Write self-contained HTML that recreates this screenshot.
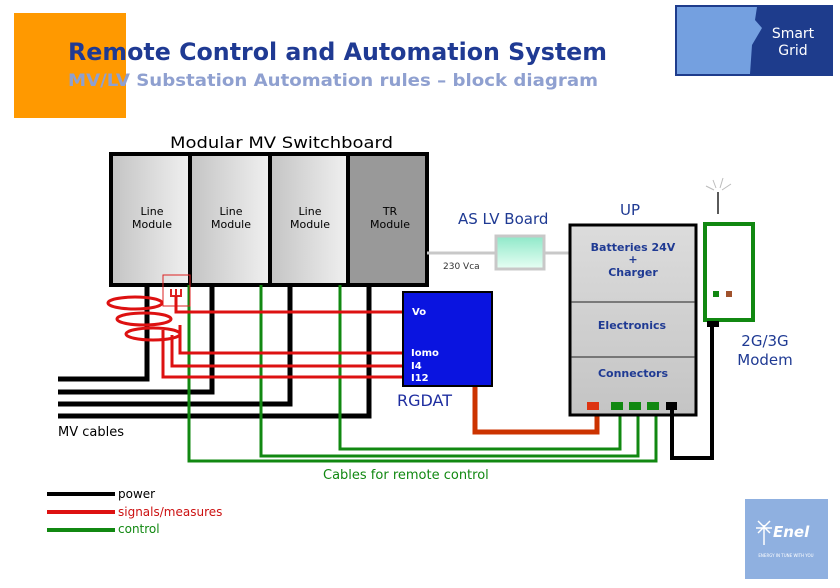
<!DOCTYPE html>
<html><head><meta charset="utf-8"><style>
html,body{margin:0;padding:0;background:#fff;width:840px;height:588px;overflow:hidden}
svg{display:block}
text{font-family:"DejaVu Sans","Liberation Sans",sans-serif}
</style></head><body>
<svg width="840" height="588" viewBox="0 0 840 588" xmlns="http://www.w3.org/2000/svg">
<defs>
<linearGradient id="gm" x1="0" x2="1" y1="0" y2="0"><stop offset="0" stop-color="#c4c4c4"/><stop offset="1" stop-color="#f0f0f0"/></linearGradient>
<linearGradient id="gu" x1="0" x2="0" y1="0" y2="1"><stop offset="0" stop-color="#dcdcdc"/><stop offset="1" stop-color="#c4c4c4"/></linearGradient>
<linearGradient id="gg" x1="0" x2="0" y1="0" y2="1"><stop offset="0" stop-color="#8ee8c8"/><stop offset="1" stop-color="#e8fff4"/></linearGradient>
</defs>
<rect x="14" y="13" width="112" height="105" fill="#ff9900"/>
<text x="68" y="60" font-size="24" font-weight="bold" fill="#1f3a93" textLength="539" lengthAdjust="spacingAndGlyphs">Remote Control and Automation System</text>
<text x="68" y="86" font-size="17" font-weight="bold" fill="#8fa0d0" textLength="530" lengthAdjust="spacingAndGlyphs">MV/LV Substation Automation rules – block diagram</text>
<rect x="675" y="5" width="158" height="71" fill="#1e3c8c"/>
<polygon points="677,7 757,7 755,20 762,28 752,45 750,74 677,74" fill="#74a0e0"/>
<text x="793" y="38" font-size="14" fill="#fff" text-anchor="middle">Smart</text>
<text x="793" y="55" font-size="14" fill="#fff" text-anchor="middle">Grid</text>

<text x="170" y="148" font-size="16" fill="#000" textLength="223" lengthAdjust="spacingAndGlyphs">Modular MV Switchboard</text>
<rect x="112" y="155" width="78" height="130" fill="url(#gm)"/>
<rect x="190" y="155" width="80" height="130" fill="url(#gm)"/>
<rect x="270" y="155" width="78" height="130" fill="url(#gm)"/>
<rect x="348" y="155" width="78" height="130" fill="#999"/>
<rect x="111" y="154" width="316" height="131" fill="none" stroke="#000" stroke-width="4"/>
<g stroke="#000" stroke-width="4"><line x1="190" y1="154" x2="190" y2="285"/><line x1="270" y1="154" x2="270" y2="285"/><line x1="348" y1="154" x2="348" y2="285"/></g>
<g font-size="11" text-anchor="middle" fill="#000">
<text x="152" y="215">Line</text><text x="152" y="228">Module</text>
<text x="231" y="215">Line</text><text x="231" y="228">Module</text>
<text x="310" y="215">Line</text><text x="310" y="228">Module</text>
<text x="390" y="215">TR</text><text x="390" y="228">Module</text>
</g>
<g stroke="#000" stroke-width="5" fill="none">
<polyline points="58,379 147,379 147,285"/>
<polyline points="58,392 212,392 212,285"/>
<polyline points="58,404 290,404 290,285"/>
<polyline points="58,416 369,416 369,285"/>
</g>
<g stroke="#118811" stroke-width="3" fill="none">
<polyline points="189,285 189,461 656,461 656,407"/>
<polyline points="261,285 261,456 638,456 638,407"/>
<polyline points="340,285 340,449 620,449 620,407"/>
</g>
<rect x="163" y="275" width="27" height="31" fill="none" stroke="#dd2222" stroke-width="1"/>
<path d="M171,289 v7 h10 v-7 M176,289 v7" stroke="#dd2222" stroke-width="2" fill="none"/>
<g stroke="#dd1111" stroke-width="3" fill="none">
<ellipse cx="135" cy="303" rx="27" ry="6"/>
<ellipse cx="144" cy="319" rx="27" ry="6"/>
<ellipse cx="153" cy="334" rx="27" ry="6"/>
<polyline points="176,296 176,312 403,312"/>
<polyline points="180,325 180,353 403,353"/>
<polyline points="172,335 172,366 403,366"/>
<polyline points="163,330 163,377 403,377"/>
</g>
<text x="58" y="436" font-size="13" fill="#000">MV cables</text>
<rect x="403" y="292" width="89" height="94" fill="#0a14e0" stroke="#000" stroke-width="2"/>
<g font-family="Liberation Serif, serif" font-weight="bold" font-size="10" fill="#fff">
<text x="412" y="315">Vo</text><text x="411" y="356">Iomo</text><text x="411" y="369">I4</text><text x="411" y="381">I12</text>
</g>
<text x="397" y="406" font-size="16" fill="#1f2ea0">RGDAT</text>
<polyline points="475,387 475,432 597,432 597,407" stroke="#cc3300" stroke-width="5" fill="none"/>
<line x1="427" y1="253" x2="569" y2="253" stroke="#c8c8c8" stroke-width="3"/>
<rect x="496" y="236" width="48" height="33" fill="url(#gg)" stroke="#c8c8c8" stroke-width="3"/>
<text x="458" y="224" font-size="15" fill="#1f3a93">AS LV Board</text>
<text x="443" y="269" font-size="9" fill="#333">230 Vca</text>
<text x="620" y="215" font-size="15" fill="#1f3a93">UP</text>
<rect x="570" y="225" width="126" height="190" fill="url(#gu)" stroke="#000" stroke-width="3"/>
<line x1="571" y1="302" x2="695" y2="302" stroke="#222" stroke-width="1"/>
<line x1="571" y1="357" x2="695" y2="357" stroke="#222" stroke-width="1"/>
<g font-size="11" font-weight="bold" fill="#1f3a93" text-anchor="middle">
<text x="633" y="251">Batteries 24V</text><text x="633" y="263">+</text><text x="633" y="276">Charger</text>
<text x="632" y="329">Electronics</text><text x="633" y="377">Connectors</text>
</g>
<rect x="587" y="402" width="12" height="8" fill="#dd3311"/>
<rect x="611" y="402" width="12" height="8" fill="#118811"/>
<rect x="629" y="402" width="12" height="8" fill="#118811"/>
<rect x="647" y="402" width="12" height="8" fill="#118811"/>
<rect x="666" y="402" width="11" height="8" fill="#000"/>
<polyline points="672,407 672,458 712,458 712,322" stroke="#000" stroke-width="4" fill="none"/>
<rect x="705" y="224" width="48" height="96" fill="#fff" stroke="#118811" stroke-width="4"/>
<rect x="707" y="321" width="12" height="6" fill="#000"/>
<rect x="713" y="291" width="6" height="6" fill="#118811"/>
<rect x="726" y="291" width="6" height="6" fill="#a0522d"/>
<line x1="718" y1="192" x2="718" y2="214" stroke="#222" stroke-width="1.5"/>
<g stroke="#bbb" stroke-width="1"><line x1="713" y1="180" x2="716" y2="188"/><line x1="723" y1="178" x2="720" y2="188"/><line x1="706" y1="186" x2="714" y2="190"/><line x1="731" y1="184" x2="722" y2="190"/></g>
<text x="765" y="346" font-size="15" fill="#1f3a93" text-anchor="middle">2G/3G</text>
<text x="765" y="365" font-size="15" fill="#1f3a93" text-anchor="middle">Modem</text>
<text x="323" y="479" font-size="13" fill="#118811">Cables for remote control</text>
<line x1="47" y1="494" x2="115" y2="494" stroke="#000" stroke-width="4"/>
<line x1="47" y1="512" x2="115" y2="512" stroke="#dd1111" stroke-width="4"/>
<line x1="47" y1="530" x2="115" y2="530" stroke="#118811" stroke-width="4"/>
<text x="118" y="498" font-size="12" fill="#000">power</text>
<text x="118" y="516" font-size="12" fill="#cc1111">signals/measures</text>
<text x="118" y="533" font-size="12" fill="#118811">control</text>
<rect x="745" y="499" width="83" height="80" fill="#8fb0e0"/>
<text x="773" y="537" font-size="15" font-style="italic" font-weight="bold" fill="#fff">Enel</text>
<g stroke="#fff" stroke-width="1.5"><line x1="764" y1="525" x2="764" y2="545"/><line x1="756" y1="528" x2="772" y2="528"/><line x1="758" y1="521" x2="770" y2="533"/><line x1="770" y1="521" x2="758" y2="533"/></g>
<text x="786" y="557" font-size="4" fill="#fff" text-anchor="middle">ENERGY IN TUNE WITH YOU</text>
</svg>
</body></html>
